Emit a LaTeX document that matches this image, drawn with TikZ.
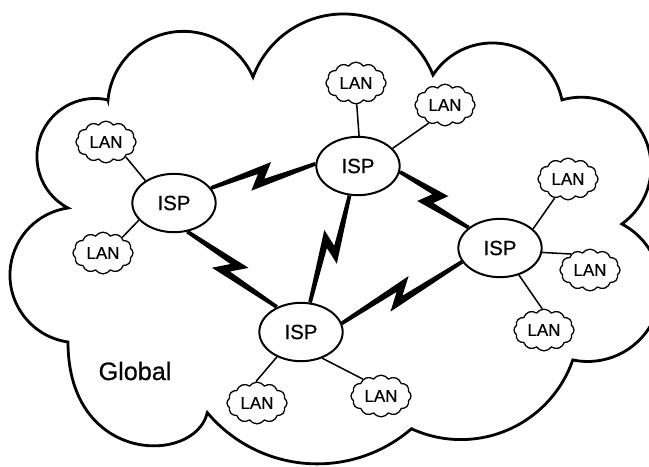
\documentclass[tikz,border=0pt]{standalone}
\usepackage{fontspec}
\setmainfont{Liberation Sans}[FakeBold=0.6]
\usetikzlibrary{shapes.geometric,shapes.symbols,calc}

% zig-zag link between two ISPs
\newcommand{\bolt}[2]{%
  \path let \p1=(#1), \p2=(#2) in \pgfextra{%
    \pgfmathsetmacro{\boltang}{atan2(\y2-\y1,\x2-\x1)}%
    \pgfmathsetmacro{\boltlen}{veclen(\x2-\x1,\y2-\y1)}%
    \xdef\boltang{\boltang}\xdef\boltlen{\boltlen}};
  \begin{scope}[shift={(#1)}, rotate=\boltang, x=1pt, y=1pt]
    \fill (0,1.6) -- ({0.6*\boltlen},10) -- ({0.449*\boltlen+5},-2.6)
      -- (\boltlen,1.6) -- (\boltlen,-1.6) -- ({0.36*\boltlen},-10)
      -- ({0.511*\boltlen-5},2.6) -- (0,-1.6) -- cycle;
  \end{scope}}

\begin{document}
\begin{tikzpicture}[x=0.03cm, y=-0.03cm,
    isp/.style={ellipse, draw, line width=1.7pt, minimum width=2.5cm,
      minimum height=1.75cm, inner sep=0pt, font=\fontsize{17.5}{20}\selectfont},
    lan/.style={cloud, draw, line width=1.1pt, cloud puffs=12, cloud puff arc=110,
      cloud ignores aspect, minimum width=1.8cm, minimum height=1.25cm,
      inner sep=0pt, font=\fontsize{14.5}{17}\selectfont},
    link/.style={line width=1.3pt}]
  \useasboundingbox (0,0) rectangle (649,466);
  \clip (0,0) rectangle (649,466);

  % the big cloud
  \draw[line width=2.4pt, line join=miter] (108,100)
    arc[start angle=185.4, end angle=336.6, radius=75.8]
    arc[start angle=200.2, end angle=338.5, radius=96.3]
    arc[start angle=213.3, end angle=348.6, radius=71]
    arc[start angle=254, end angle=414.4, radius=69.9]
    arc[start angle=297.9, end angle=461.8, radius=73]
    arc[start angle=19.1, end angle=114.7, radius=118.4]
    arc[start angle=49.1, end angle=139.9, radius=143.8]
    .. controls (195,465) and (68,465) .. (68,342)
    arc[start angle=98.2, end angle=261.8, radius=67.7]
    arc[start angle=117.7, end angle=282.9, radius=58.1]
    -- cycle;
  \node[anchor=base, font=\fontsize{21.5}{24}\selectfont] (global) at (135,380) {Global};

  % ISPs
  \node[isp] (ispL) at (174,203) {ISP};
  \node[isp] (ispT) at (358,166) {ISP};
  \node[isp] (ispR) at (500,248) {ISP};
  \node[isp] (ispB) at (301,332) {ISP};

  % LANs
  \node[lan] (lanL1) at (106,142) {LAN};
  \node[lan] (lanL2) at (103,253) {LAN};
  \node[lan] (lanT1) at (356,83) {LAN};
  \node[lan] (lanT2) at (445,105) {LAN};
  \node[lan] (lanR1) at (568,179) {LAN};
  \node[lan] (lanR2) at (590,270) {LAN};
  \node[lan] (lanR3) at (544,330) {LAN};
  \node[lan] (lanB1) at (257,403) {LAN};
  \node[lan] (lanB2) at (381,396) {LAN};

  % ISP to LAN
  \draw[link] (ispL.142) -- (lanL1.323);
  \draw[link] (ispL.206) -- (lanL2.39);
  \draw[link] (ispT.88) -- (lanT1.272);
  \draw[link] (ispT.27) -- (lanT2.228);
  \draw[link] (ispR.30) -- (lanR1.235);
  \draw[link] (ispR.354) -- (lanR2.140);
  \draw[link] (ispR.305) -- (lanR3.95);
  \draw[link] (ispB.226) -- (lanB1.93);
  \draw[link] (ispB.309) -- (lanB2.137);

  % ISP to ISP
  \bolt{ispL.22}{ispT.177}
  \bolt{ispT.352}{ispR.147}
  \bolt{ispT.254}{ispB.73}
  \bolt{ispL.295}{ispB.134}
  \bolt{ispB.12}{ispR.200}
\end{tikzpicture}
\end{document}
